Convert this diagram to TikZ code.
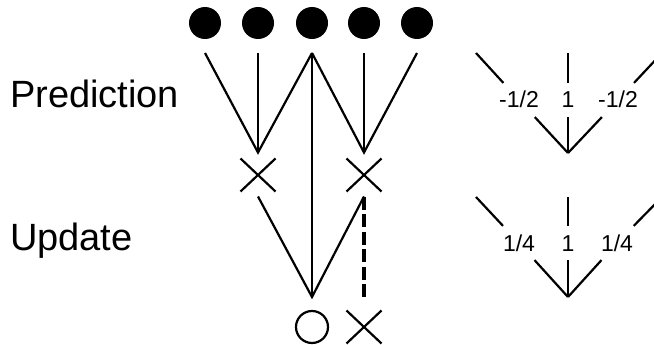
\documentclass[tikz,border=0pt]{standalone}
\usepackage{fontspec}
\setmainfont{Liberation Sans}
\usetikzlibrary{shapes.misc}

\begin{document}
\begin{tikzpicture}[x=1pt,y=-1pt,line width=2.2pt,
            dot/.style={circle,fill=black,inner sep=0pt,minimum size=32pt,outer sep=14pt},
            ring/.style={circle,draw,inner sep=0pt,minimum size=32pt,outer sep=14pt},
            xmark/.style={cross out,draw,inner sep=0pt,minimum width=35pt,minimum height=33pt,outer sep=0pt},
            wt/.style={font=\fontsize{23}{23}\selectfont,text height=16pt,text depth=0pt,
                inner xsep=4pt,inner ysep=8pt,anchor=base},
            big/.style={font=\fontsize{38}{38}\selectfont,anchor=base west,inner sep=0pt}]
            \useasboundingbox (0,0) rectangle (654,345);
            \clip (0,0) rectangle (654,345);

            \foreach \n/\x in {1/205,2/258,3/312,4/364,5/417}{
                \node[dot] (d\n) at (\x,23) {};
            }

            \node[xmark] (p1) at (258,175) {};
            \node[xmark] (p2) at (364,175) {};
            \node[ring] (r) at (312,327) {};
            \node[xmark] (q) at (364,327) {};

            \draw (d1.south)--([yshift=6pt]p1.north)--(d3.south);
            \draw (d2.south)--([yshift=6pt]p1.north);
            \draw (d3.south)--([yshift=6pt]p2.north)--(d5.south);
            \draw (d4.south)--([yshift=6pt]p2.north);
            \draw (d3.south)--(r.north);
            \draw ([yshift=-5pt]p1.south)--(r.north)--([yshift=-5pt]p2.south);
            \draw[dash pattern=on 13pt off 4.5pt,line width=3.2pt] ([yshift=-5pt]p2.south)--([yshift=10pt]q.north);

            \node[big] (pred) at (9,108) {Prediction};
            \node[big] (upd) at (9,250) {Update};

            \coordinate (ta1) at (476,53);
            \coordinate (ta2) at (568,53);
            \coordinate (ta3) at (662,53);
            \coordinate (tb) at (568,153);
            \node[wt] (la1) at (519,108) {-1/2};
            \node[wt] (la2) at (568,108) {1};
            \node[wt] (la3) at (618,108) {-1/2};
            \draw (ta1)--(la1)--(tb);
            \draw (ta2)--(la2)--(tb);
            \draw (ta3)--(la3)--(tb);

            \coordinate (ua1) at (476,197);
            \coordinate (ua2) at (568,197);
            \coordinate (ua3) at (662,197);
            \coordinate (ub) at (568,297);
            \node[wt] (lb1) at (519,251) {1/4};
            \node[wt] (lb2) at (568,251) {1};
            \node[wt] (lb3) at (617,251) {1/4};
            \draw (ua1)--(lb1)--(ub);
            \draw (ua2)--(lb2)--(ub);
            \draw (ua3)--(lb3)--(ub);
        \end{tikzpicture}
\end{document}
